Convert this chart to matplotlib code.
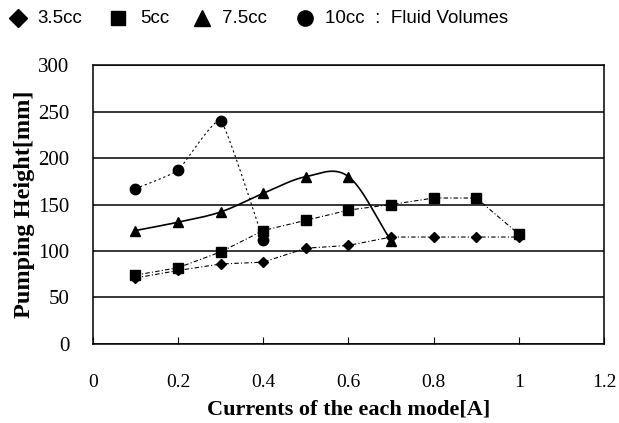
import numpy as np
import matplotlib.pyplot as plt
from matplotlib.lines import Line2D

# pumping height [mm] versus drive current [A] for four fluid volumes
current = [0.1, 0.2, 0.3, 0.4, 0.5, 0.6, 0.7, 0.8, 0.9, 1.0]
h_35cc = [71, 79, 86, 88, 103, 106, 115, 115, 115, 115]
h_5cc = [74, 82, 99, 122, 133, 144, 150, 157, 157, 118]
h_75cc = [122, 131, 142, 162, 180, 180, 111]
h_10cc = [167, 187, 240, 112]

y_ticks = [0, 50, 100, 150, 200, 250, 300]
x_ticks = [0, 0.2, 0.4, 0.6, 0.8, 1, 1.2]
x_tick_labels = ['0', '0.2', '0.4', '0.6', '0.8', '1', '1.2']


def smooth(x, y, k=6.0, n=30):
    # Catmull-Rom style curve through the points (like a spreadsheet "smoothed line")
    x = np.asarray(x, float)
    y = np.asarray(y, float)
    px = np.concatenate([[2 * x[0] - x[1]], x, [2 * x[-1] - x[-2]]])
    py = np.concatenate([[2 * y[0] - y[1]], y, [2 * y[-1] - y[-2]]])
    xs, ys = [], []
    t = np.linspace(0, 1, n)
    for i in range(1, len(px) - 2):
        for p, out in ((px, xs), (py, ys)):
            p0, p1, p2, p3 = p[i - 1], p[i], p[i + 1], p[i + 2]
            c1 = p1 + (p2 - p0) / k
            c2 = p2 - (p3 - p1) / k
            out.extend((1 - t) ** 3 * p1 + 3 * (1 - t) ** 2 * t * c1
                       + 3 * (1 - t) * t ** 2 * c2 + t ** 3 * p2)
    return xs, ys


plt.rcParams['font.family'] = ['Liberation Serif', 'DejaVu Serif']

fig = plt.figure(figsize=(6.19, 4.23), dpi=100)
ax = fig.add_axes([0.150, 0.187, 0.826, 0.659])

lw = 0.8
ax.plot(current, h_35cc, color='black', lw=lw, ls=(0, (4, 2, 1, 2)),
        marker='D', ms=5.5, mfc='black', mec='black')
ax.plot(current, h_5cc, color='black', lw=lw, ls=(0, (4, 2, 1, 2)),
        marker='s', ms=7, mfc='black', mec='black')
sx, sy = smooth(current[:len(h_75cc)], h_75cc)
ax.plot(sx, sy, color='black', lw=1.2)
ax.plot(current[:len(h_75cc)], h_75cc, ls='none', marker='^', ms=7.5, color='black')
sx, sy = smooth(current[:len(h_10cc)], h_10cc, k=14.0)
ax.plot(sx, sy, color='black', lw=lw, ls=(0, (2, 2.5)))
ax.plot(current[:len(h_10cc)], h_10cc, ls='none', marker='o', ms=7.5, color='black')

ax.set_xlim(0, 1.2)
ax.set_ylim(0, 300)
ax.set_xticks(x_ticks)
ax.set_xticklabels(x_tick_labels)
ax.set_yticks(y_ticks)
ax.yaxis.grid(True, color='black', lw=1.1)
ax.set_axisbelow(True)
for s in ax.spines.values():
    s.set_linewidth(1.1)
ax.tick_params(axis='x', direction='in', length=5, pad=22, labelsize=14)
ax.tick_params(axis='y', length=0, pad=17, labelsize=15)
ax.set_xlabel('Currents of the each mode[A]', fontsize=16, fontweight='bold', labelpad=6)
ax.set_ylabel('Pumping Height[mm]', fontsize=17.5, fontweight='bold', labelpad=2)

# legend row across the top
sans = ['Liberation Sans', 'DejaVu Sans']
entries = [('D', 9, 0.029, '3.5cc', 0.060),
           ('s', 10, 0.191, '5cc', 0.226),
           ('^', 11, 0.327, '7.5cc', 0.358),
           ('o', 11, 0.493, '10cc  :  Fluid Volumes', 0.525)]
for m, ms, mx, label, tx in entries:
    fig.add_artist(Line2D([mx], [0.957], marker=m, ms=ms, color='black',
                          transform=fig.transFigure))
    fig.text(tx, 0.957, label, fontsize=13.5, family=sans, va='center', ha='left')

fig.savefig('out.png', dpi=100)
